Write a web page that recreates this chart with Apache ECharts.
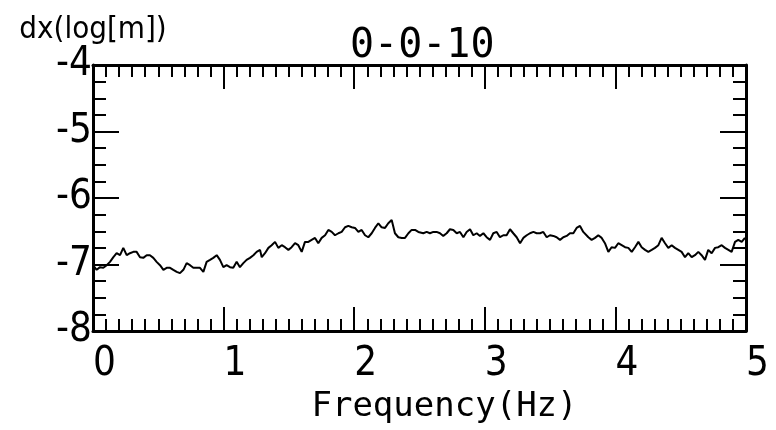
<!DOCTYPE html>
<html>
<head>
<meta charset="utf-8">
<script src="https://cdn.jsdelivr.net/npm/echarts@6/dist/echarts.min.js"></script>
<style>html,body{margin:0;padding:0;background:#fff}#c{width:776px;height:430px}</style>
</head>
<body>
<div id="c"></div>
<script>
const titleText = '0-0-10';
const xName = 'Frequency(Hz)';
const yName = 'dx(log[m])';
const xTicks = [0, 1, 2, 3, 4, 5];
const yTicks = [-8, -7, -6, -5, -4];

const freq = [
  0.000, 0.028, 0.054, 0.079, 0.105, 0.130, 0.156, 0.181, 0.207, 0.232, 0.258,
  0.283, 0.309, 0.334, 0.360, 0.385, 0.411, 0.436, 0.462, 0.487, 0.513,
  0.539, 0.564, 0.590, 0.615, 0.641, 0.666, 0.692, 0.717, 0.743, 0.768,
  0.794, 0.819, 0.845, 0.870, 0.896, 0.921, 0.947, 0.972, 0.998, 1.023,
  1.049, 1.074, 1.100, 1.125, 1.151, 1.176, 1.202, 1.228, 1.253, 1.279,
  1.292, 1.317, 1.343, 1.368, 1.394, 1.419, 1.445, 1.470, 1.496, 1.521,
  1.547, 1.572, 1.598, 1.623, 1.649, 1.674, 1.700, 1.725, 1.751, 1.777,
  1.802, 1.828, 1.853, 1.879, 1.904, 1.930, 1.955, 1.981, 2.006, 2.032,
  2.057, 2.083, 2.108, 2.134, 2.159, 2.185, 2.210, 2.236, 2.261, 2.287,
  2.312, 2.338, 2.364, 2.389, 2.415, 2.440, 2.466, 2.491,
  2.504, 2.529, 2.555, 2.580, 2.606, 2.631, 2.657, 2.682, 2.708, 2.733,
  2.759, 2.785, 2.810, 2.836, 2.861, 2.887, 2.912, 2.938, 2.963, 2.989,
  3.014, 3.040, 3.065, 3.091, 3.116, 3.142, 3.167, 3.193, 3.218, 3.244,
  3.270, 3.295, 3.321, 3.346, 3.372, 3.397, 3.423, 3.448, 3.474, 3.499,
  3.525, 3.550, 3.576, 3.601, 3.627, 3.652, 3.678, 3.703, 3.729, 3.754,
  3.767, 3.793, 3.818, 3.844, 3.869, 3.895, 3.920, 3.946, 3.971, 3.997,
  4.022, 4.048, 4.074, 4.099, 4.125, 4.150, 4.176, 4.201, 4.227, 4.252,
  4.278, 4.303, 4.329, 4.354, 4.380, 4.405, 4.431, 4.456, 4.482, 4.507,
  4.533, 4.558, 4.584, 4.609, 4.635, 4.660, 4.686, 4.711, 4.737, 4.763,
  4.788, 4.814, 4.839, 4.865, 4.890, 4.916, 4.941, 4.967, 4.992
];

const dx = [
  -7.01, -7.08, -7.04, -7.05, -7.01, -6.96, -6.89, -6.83, -6.86, -6.75, -6.86,
  -6.83, -6.81, -6.81, -6.89, -6.90, -6.86, -6.86, -6.90, -6.96, -7.01,
  -7.08, -7.05, -7.05, -7.08, -7.11, -7.13, -7.08, -6.98, -7.01, -7.05,
  -7.05, -7.05, -7.11, -6.96, -6.93, -6.90, -6.86, -6.93, -7.04, -7.01,
  -7.04, -7.05, -6.96, -7.04, -6.98, -6.93, -6.90, -6.86, -6.81, -6.78,
  -6.89, -6.83, -6.75, -6.71, -6.66, -6.75, -6.71, -6.74, -6.78, -6.74,
  -6.68, -6.71, -6.81, -6.66, -6.66, -6.63, -6.60, -6.68, -6.60, -6.56,
  -6.48, -6.51, -6.56, -6.53, -6.51, -6.44, -6.42, -6.44, -6.45, -6.51,
  -6.48, -6.56, -6.59, -6.53, -6.45, -6.38, -6.44, -6.45, -6.38, -6.33,
  -6.53, -6.59, -6.60, -6.60, -6.53, -6.48, -6.48, -6.51,
  -6.53, -6.53, -6.51, -6.53, -6.51, -6.51, -6.53, -6.57, -6.53, -6.47,
  -6.48, -6.53, -6.51, -6.59, -6.51, -6.47, -6.56, -6.53, -6.57, -6.53,
  -6.59, -6.63, -6.53, -6.51, -6.59, -6.56, -6.56, -6.47, -6.53, -6.59,
  -6.68, -6.60, -6.56, -6.53, -6.51, -6.53, -6.53, -6.51, -6.59, -6.56,
  -6.57, -6.59, -6.63, -6.59, -6.57, -6.53, -6.53, -6.45, -6.42, -6.51,
  -6.53, -6.59, -6.63, -6.60, -6.56, -6.60, -6.68, -6.81, -6.74, -6.75,
  -6.68, -6.71, -6.74, -6.75, -6.81, -6.74, -6.66, -6.74, -6.78, -6.81,
  -6.78, -6.75, -6.71, -6.60, -6.68, -6.75, -6.71, -6.75, -6.78, -6.81,
  -6.89, -6.83, -6.89, -6.86, -6.81, -6.86, -6.93, -6.78, -6.83, -6.75,
  -6.74, -6.71, -6.75, -6.78, -6.81, -6.66, -6.63, -6.66, -6.60
];

const narrow = "'Liberation Sans Narrow', 'DejaVu Sans Condensed', 'Roboto Condensed', 'Liberation Sans', sans-serif";
const mono = "'DejaVu Sans Mono', 'Liberation Mono', monospace";

const lineStyle = { color: '#000', width: 3 };
const tickStyle = { color: '#000', width: 2 };

function xAxisCfg(pos, showLabel) {
  return {
    type: 'value', position: pos,
    min: xTicks[0], max: xTicks[xTicks.length - 1], interval: 1,
    axisLine: { show: true, onZero: false, lineStyle: lineStyle },
    axisTick: { show: true, inside: true, length: 24, lineStyle: tickStyle },
    minorTick: { show: true, splitNumber: 10, length: 12, lineStyle: tickStyle },
    splitLine: { show: false },
    axisLabel: {
      show: showLabel, color: '#000', fontFamily: narrow, fontSize: 40,
      align: 'left', margin: 14
    }
  };
}
function yAxisCfg(pos, showLabel) {
  return {
    type: 'value', position: pos,
    min: yTicks[0], max: yTicks[yTicks.length - 1], interval: 1,
    axisLine: { show: true, onZero: false, lineStyle: lineStyle },
    axisTick: { show: true, inside: true, length: 26, lineStyle: tickStyle },
    minorTick: { show: true, splitNumber: 4, length: 13, lineStyle: tickStyle },
    splitLine: { show: false },
    axisLabel: {
      show: showLabel, color: '#000', fontFamily: narrow, fontSize: 40, margin: 1
    }
  };
}

const xb = xAxisCfg('bottom', true);
xb.name = xName;
xb.nameLocation = 'middle';
xb.nameGap = 46;
xb.nameTextStyle = { color: '#000', fontFamily: mono, fontSize: 34, padding: [0, 0, 0, 50] };

const yl = yAxisCfg('left', true);
yl.name = yName;
yl.nameLocation = 'end';
yl.nameGap = 17;
yl.nameTextStyle = { color: '#000', fontFamily: narrow, fontSize: 31, align: 'center' };

const chart = echarts.init(document.getElementById('c'), null, { renderer: 'canvas' });
chart.setOption({
  backgroundColor: '#fff',
  animation: false,
  title: {
    text: titleText, left: 345, top: 22,
    textStyle: { color: '#000', fontFamily: mono, fontSize: 40, fontWeight: 'normal' }
  },
  grid: { left: 93, right: 30, top: 65, bottom: 99 },
  xAxis: [xb, xAxisCfg('top', false)],
  yAxis: [yl, yAxisCfg('right', false)],
  series: [{
    type: 'line', xAxisIndex: 0, yAxisIndex: 0,
    data: freq.map((f, i) => [f, dx[i]]),
    showSymbol: false, symbol: 'none',
    lineStyle: { color: '#000', width: 2 },
    silent: true
  }]
});
</script>
</body>
</html>
